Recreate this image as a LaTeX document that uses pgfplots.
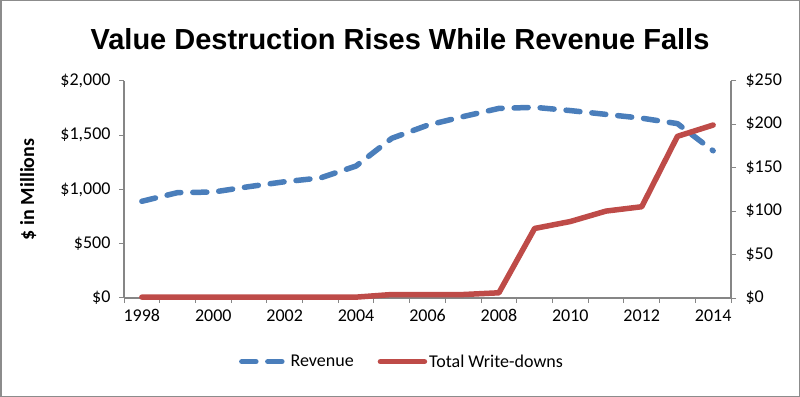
\documentclass[border=0pt]{standalone}
\usepackage{fontspec}
\setmainfont{Carlito}
\newfontfamily\titlefont{Liberation Sans}
\usepackage{pgfplots}
\pgfplotsset{compat=1.18}
\definecolor{rev}{HTML}{4A7EBB}
\definecolor{wd}{HTML}{BE4B48}
\definecolor{axgray}{HTML}{868686}
\newcommand{\tickfont}{\fontsize{18bp}{21bp}\selectfont}

\pgfplotstableread{
year value
1998 890
1999 970
2000 975
2001 1025
2002 1070
2003 1105
2004 1215
2005 1470
2006 1590
2007 1670
2008 1745
2009 1755
2010 1725
2011 1690
2012 1655
2013 1605
2014 1355
}\revtable

\pgfplotstableread{
year value
1998 1
1999 1
2000 1
2001 1
2002 1
2003 1
2004 1
2005 4
2006 4
2007 4
2008 6
2009 80
2010 88
2011 100
2012 105
2013 186
2014 199
}\wdtable

\pgfplotsset{
  common/.style={
    scale only axis, width=607bp, height=217.3bp,
    at={(124bp,99bp)}, anchor=south west,
    xmin=1997.5, xmax=2014.5,
    xtick={1998,2000,...,2014},
    xticklabels={1998,2000,2002,2004,2006,2008,2010,2012,2014},
    minor xtick={1997.5,1998.5,...,2014.5},
    tick align=outside,
    major tick length=5bp, minor tick length=5bp,
    tick style={axgray, line width=1bp},
    major x tick style={draw=none},
    axis line style={-, axgray, line width=1.2bp},
    tick label style={font=\tickfont},
    clip=false,
  },
  revstyle/.style={rev, line width=5.5bp, line cap=round, line join=round, dash pattern=on 14bp off 12bp},
  wdstyle/.style={wd, line width=5.5bp, line cap=round, line join=round},
}

\begin{document}
\begin{tikzpicture}
\useasboundingbox (0bp,0bp) rectangle (800bp,397bp);
\draw[draw=black!45, line width=1.5bp] (0.75bp,0.75bp) rectangle (799.25bp,396.25bp);
\node[anchor=base, font=\titlefont\bfseries\fontsize{29bp}{34bp}\selectfont] at (400bp,347.7bp) {Value Destruction Rises While Revenue Falls};

\begin{axis}[common,
  axis y line*=left, axis x line*=bottom,
  ymin=0, ymax=2000,
  ytick={0,500,1000,1500,2000},
  yticklabels={{\$0},{\$500},{\$1,000},{\$1,500},{\$2,000}},
  yticklabel style={xshift=-5bp},
  xticklabel style={yshift=-3bp},
  ylabel={\$ in Millions},
  ylabel style={font=\fontsize{20bp}{24bp}\selectfont\bfseries, at={(axis description cs:-0.158,0.5)}, anchor=center},
]
\addplot[revstyle] table[x=year, y=value] {\revtable};
\end{axis}

\begin{axis}[common,
  axis y line*=right, axis x line=none,
  ymin=0, ymax=250,
  ytick={0,50,100,150,200,250},
  yticklabels={{\$0},{\$50},{\$100},{\$150},{\$200},{\$250}},
  yticklabel style={xshift=6bp},
  legend columns=2,
  legend style={draw=none, fill=none, at={(axis description cs:0.458,-0.293)}, anchor=center,
    font=\tickfont,
    /tikz/every even column/.append style={column sep=22bp}},
  legend image code/.code={\draw[#1] (0bp,0bp) -- (44bp,0bp);},
]
\addlegendimage{revstyle}
\addlegendentry{Revenue}
\addplot[wdstyle] table[x=year, y=value] {\wdtable};
\addlegendentry{Total Write-downs}
\end{axis}
\end{tikzpicture}
\end{document}
